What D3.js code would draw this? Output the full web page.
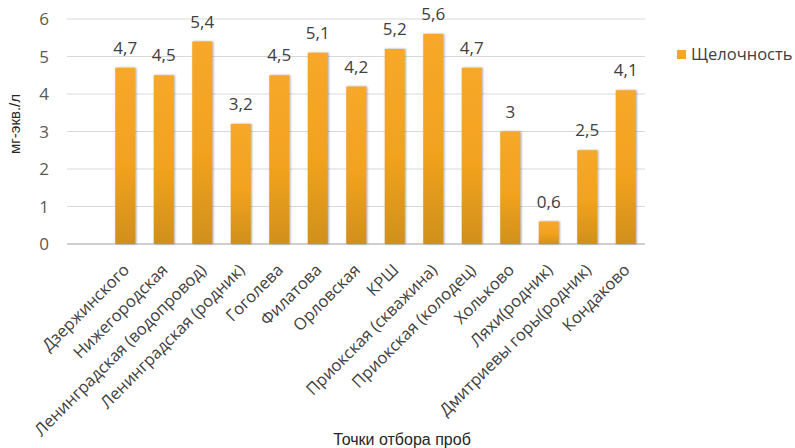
<!DOCTYPE html>
<html><head><meta charset="utf-8">
<script src="https://cdn.jsdelivr.net/npm/d3@7"></script>
<style>body{margin:0;background:#fff}svg{display:block}</style>
</head><body>
<svg id="c" width="795" height="448"></svg>
<script>
const categories = ["Дзержинского","Нижегородская","Ленинградская (водопровод)","Ленинградская (родник)","Гоголева","Филатова","Орловская","КРШ","Приокская (скважина)","Приокская (колодец)","Хольково","Ляхи(родник)","Дмитриевы горы(родник)","Кондаково"];
const values = [4.7,4.5,5.4,3.2,4.5,5.1,4.2,5.2,5.6,4.7,3,0.6,2.5,4.1];
const labels = ["4,7","4,5","5,4","3,2","4,5","5,1","4,2","5,2","5,6","4,7","3","0,6","2,5","4,1"];
const yTicks = [0,1,2,3,4,5,6];
const seriesName = "Щелочность";
const yTitle = "мг-экв./л";
const xTitle = "Точки отбора проб";

const svg = d3.select("#c");
const font = "'Open Sans', sans-serif";
const x = d3.scaleBand().domain(categories).range([106, 645]).paddingInner(0.48).paddingOuter(0.24);
const y = d3.scaleLinear().domain([0, 6]).range([244, 19]);

const defs = svg.append("defs");
const g = defs.append("linearGradient").attr("id","bg").attr("x1",0).attr("y1",0).attr("x2",0).attr("y2",1);
g.append("stop").attr("offset","0%").attr("stop-color","#F7A82A");
g.append("stop").attr("offset","55%").attr("stop-color","#F2A21F");
g.append("stop").attr("offset","100%").attr("stop-color","#D0901C");
const f = defs.append("filter").attr("id","sh").attr("x","-30%").attr("y","-10%").attr("width","160%").attr("height","120%");
f.append("feDropShadow").attr("dx",1).attr("dy",0).attr("stdDeviation",1.2).attr("flood-color","#555").attr("flood-opacity",0.55);

// gridlines
svg.append("g").selectAll("line").data(yTicks).join("line")
  .attr("x1",67).attr("x2",645).attr("y1",d=>y(d)).attr("y2",d=>y(d))
  .attr("stroke", d=> d===0 ? "#BFBFBF" : "#D9D9D9").attr("stroke-width", d=> d===0?1.5:1);

// y tick labels
svg.append("g").selectAll("text").data(yTicks).join("text")
  .attr("x",49).attr("y",d=>y(d)+6).attr("text-anchor","end")
  .attr("font-family",font).attr("font-size",17).attr("fill","#595959").text(d=>d);

// bars
svg.append("g").selectAll("rect").data(values).join("rect")
  .attr("x",(d,i)=>x(categories[i])).attr("width",x.bandwidth())
  .attr("y",d=>y(d)).attr("height",d=>y(0)-y(d))
  .attr("fill","url(#bg)").attr("filter","url(#sh)");

// value labels
svg.append("g").selectAll("text").data(values).join("text")
  .attr("x",(d,i)=>x(categories[i])+x.bandwidth()/2).attr("y",d=>y(d)-14)
  .attr("text-anchor","middle").attr("font-family",font).attr("font-size",17).attr("fill","#404040")
  .text((d,i)=>labels[i]);

// category labels
svg.append("g").selectAll("text").data(categories).join("text")
  .attr("transform",d=>`translate(${x(d)+x.bandwidth()/2+5},271) rotate(-45)`)
  .attr("text-anchor","end").attr("font-family",font).attr("font-size",16.5).attr("fill","#404040")
  .text(d=>d);

// axis titles
svg.append("text").attr("x",402).attr("y",445).attr("text-anchor","middle")
  .attr("font-family","'Liberation Sans', Arial, sans-serif").attr("font-size",16).attr("fill","#262626").text(xTitle);
svg.append("text").attr("transform","translate(20,124) rotate(-90)").attr("text-anchor","middle")
  .attr("font-family","'Liberation Sans', Arial, sans-serif").attr("font-size",15).attr("fill","#262626").text(yTitle);

// legend
svg.append("rect").attr("x",677).attr("y",50).attr("width",9).attr("height",9).attr("fill","#F5A623");
svg.append("text").attr("x",691).attr("y",60).attr("font-family",font).attr("font-size",16.5).attr("fill","#404040").text(seriesName);
</script>
</body></html>
